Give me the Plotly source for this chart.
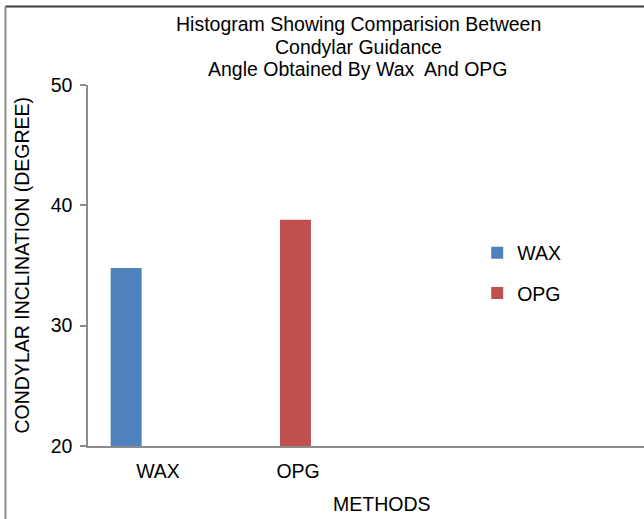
import plotly.graph_objects as go

# Data
categories = ["WAX", "OPG"]
series_names = ["WAX", "OPG"]
wax_values = [34.8]
opg_values = [38.8]
y_ticks = [20, 30, 40, 50]

title_lines = [
    "Histogram Showing Comparision Between",
    "Condylar Guidance",
    "Angle Obtained By Wax  And OPG",
]
x_title = "METHODS"
y_title = "CONDYLAR INCLINATION (DEGREE)"

FONT = "Liberation Sans, Arial, sans-serif"
FS = 19.5
BLUE = "#4F81BD"
RED = "#C0504D"
AXIS = "#8c8c8c"

fig = go.Figure()
fig.add_trace(go.Bar(
    x=[categories[0]], y=wax_values, name=series_names[0],
    marker=dict(color=BLUE, line=dict(width=0)),
    width=0.221, offset=-0.338,
    legendgroup="a",
))
fig.add_trace(go.Bar(
    x=[categories[1]], y=opg_values, name=series_names[1],
    marker=dict(color=RED, line=dict(width=0)),
    width=0.221, offset=-0.129,
    legendgroup="b",
))

annotations = []
title_y = [1.168, 1.106, 1.043]
for line, yy in zip(title_lines, title_y):
    annotations.append(dict(
        text=line, x=0.4865, y=yy, xref="paper", yref="paper",
        xanchor="center", yanchor="middle", showarrow=False,
        font=dict(family=FONT, size=FS, color="#000000"),
    ))
annotations.append(dict(
    text=x_title, x=0.529, y=-0.161, xref="paper", yref="paper",
    xanchor="center", yanchor="middle", showarrow=False,
    font=dict(family=FONT, size=FS, color="#000000"),
))
annotations.append(dict(
    text=y_title, x=-0.1205, y=0.5, xref="paper", yref="paper",
    xanchor="center", yanchor="middle", showarrow=False, textangle=-90,
    font=dict(family=FONT, size=FS, color="#000000"),
))

fig.update_layout(
    width=644, height=519,
    margin=dict(l=88, r=0, t=85, b=73, autoexpand=False),
    paper_bgcolor="white", plot_bgcolor="white",
    font=dict(family=FONT, size=FS, color="#000000"),
    showlegend=True,
    legend=dict(
        x=0.7, y=0.479, xanchor="left", yanchor="middle",
        traceorder="grouped", tracegroupgap=12,
        font=dict(family=FONT, size=FS, color="#000000"),
        bgcolor="rgba(0,0,0,0)",
    ),
    annotations=annotations,
    xaxis=dict(
        type="category", categoryorder="array", categoryarray=categories,
        range=[-0.5, 3.47], showgrid=False, zeroline=False,
        showline=True, linecolor=AXIS, linewidth=2,
        ticks="", ticklabelstandoff=7,
        tickfont=dict(family=FONT, size=FS, color="#000000"),
    ),
    yaxis=dict(
        range=[20, 50], tickvals=y_ticks, showgrid=False, zeroline=False,
        showline=True, linecolor=AXIS, linewidth=1.5,
        ticks="outside", ticklen=6, tickcolor=AXIS, tickwidth=1.5,
        ticklabelstandoff=4,
        tickfont=dict(family=FONT, size=FS, color="#000000"),
    ),
    shapes=[
        dict(type="line", xref="paper", yref="paper",
             x0=-0.1484, x1=1.05, y0=1.2175, y1=1.2175,
             line=dict(color="#3a3a3a", width=2)),
        dict(type="line", xref="paper", yref="paper",
             x0=-0.1484, x1=-0.1484, y0=1.2175, y1=-0.3,
             line=dict(color="#8c8c8c", width=2)),
    ],
)

fig.write_html(
    "out.html",
    config={"displayModeBar": False},
    post_script="document.body.style.margin='0';document.body.style.overflow='hidden';",
)
